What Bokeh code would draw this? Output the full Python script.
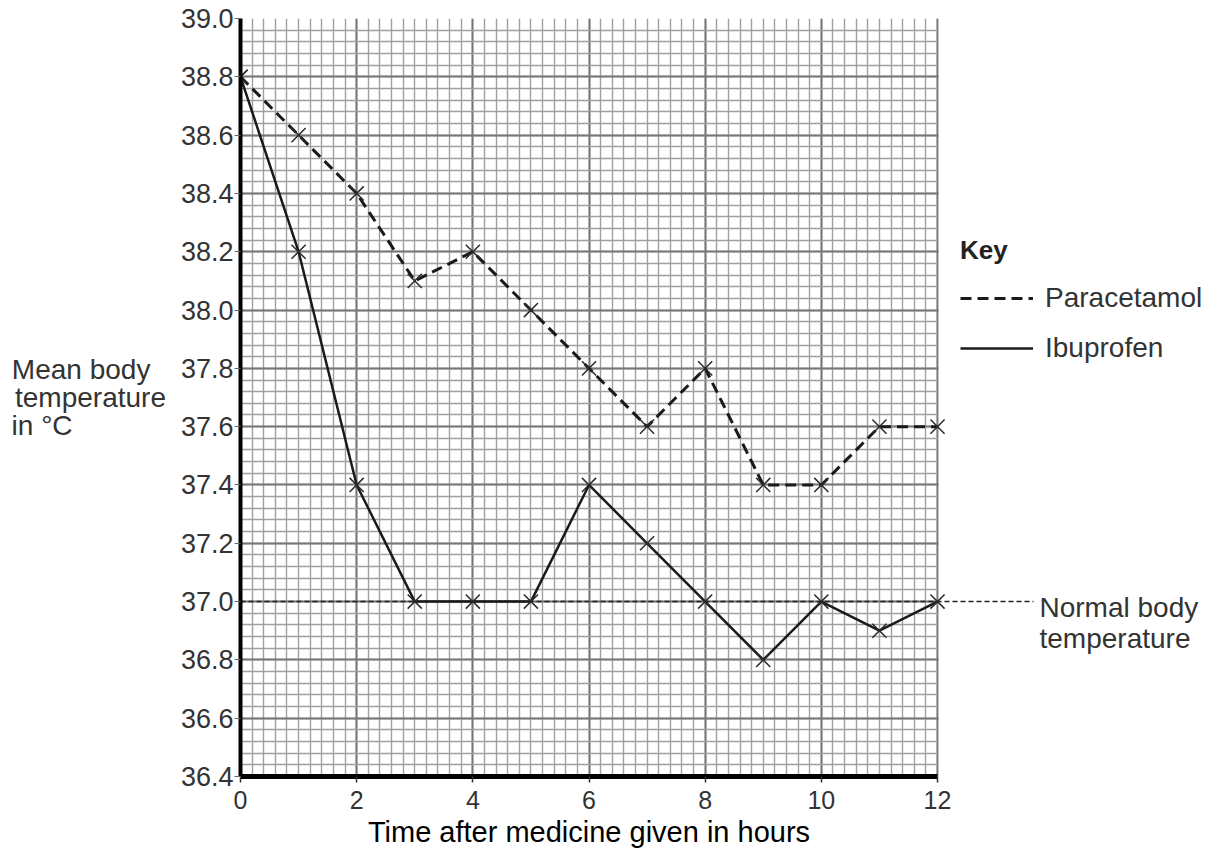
from bokeh.plotting import figure
from bokeh.models import (Range1d, FixedTicker, Label, Legend, LegendItem,
                          PrintfTickFormatter, LinearAxis)
from bokeh.embed import file_html
from bokeh.resources import INLINE

# ---- data ----
hours = [0, 1, 2, 3, 4, 5, 6, 7, 8, 9, 10, 11, 12]
paracetamol = [38.8, 38.6, 38.4, 38.1, 38.2, 38.0, 37.8, 37.6, 37.8, 37.4, 37.4, 37.6, 37.6]
ibuprofen = [38.8, 38.2, 37.4, 37.0, 37.0, 37.0, 37.4, 37.2, 37.0, 36.8, 37.0, 36.9, 37.0]
normal_temp = 37.0
x_ticks = [0, 2, 4, 6, 8, 10, 12]
y_ticks = [36.4, 36.6, 36.8, 37.0, 37.2, 37.4, 37.6, 37.8, 38.0, 38.2, 38.4, 38.6, 38.8, 39.0]
x_minor = [round(i * 0.2, 4) for i in range(61)]
y_minor = [round(36.4 + i * 0.04, 4) for i in range(66)]
x_title = "Time after medicine given in hours"
y_title = ["Mean body", "temperature", "in °C"]

FONT = "Liberation Sans"
X0, X1, Y0, Y1 = 0, 12, 36.4, 39.0
L, R, T, B = 240, 937, 18, 776       # plot-area corners on the page
W, H = 1216, 850
PX_PER_X = (R - L) / (X1 - X0)


def dx(px):
    return X0 + (px - L) / PX_PER_X


def dy(py):
    return Y1 - (py - T) / (B - T) * (Y1 - Y0)


# ---------------- chart (frame runs to the right edge of the page) ----------------
p = figure(frame_width=W - L, frame_height=B - T,
           min_border_left=L, min_border_right=0,
           min_border_top=T, min_border_bottom=H - B,
           x_range=Range1d(X0, dx(W)), y_range=Range1d(Y0, Y1),
           output_backend="svg", toolbar_location=None)
p.outline_line_color = None
p.background_fill_color = "white"
p.border_fill_color = "white"

xt = FixedTicker(ticks=x_ticks, minor_ticks=x_minor)
yt = FixedTicker(ticks=y_ticks, minor_ticks=y_minor)
p.xaxis.ticker = xt
p.yaxis.ticker = yt
p.xgrid.ticker = xt
p.ygrid.ticker = yt
p.yaxis.formatter = PrintfTickFormatter(format="%.1f")
p.xaxis.bounds = (X0, X1)

for g in (p.xgrid, p.ygrid):
    g.grid_line_color = "#777777"
    g.grid_line_width = 2
    g.minor_grid_line_color = "#a0a0a0"
    g.minor_grid_line_width = 1.4

for ax in (p.xaxis, p.yaxis):
    ax.axis_line_color = "black"
    ax.minor_tick_line_color = None
    ax.major_tick_in = 0
    ax.major_label_text_font = FONT
    ax.major_label_text_color = "#333333"

p.yaxis.axis_line_width = 4
p.yaxis.major_tick_out = 6
p.yaxis.major_tick_line_color = "#666666"
p.yaxis.major_label_standoff = 1
p.yaxis.major_label_text_font_size = "27px"
# horizontal y-axis title; no-break spaces pad the shorter lines so they start flush left
NB = "\u00a0"
p.yaxis.axis_label = "\n".join([y_title[0] + NB * 2, y_title[1], y_title[2] + NB * 12])
p.yaxis.axis_label_orientation = "horizontal"
p.yaxis.axis_label_text_font = FONT
p.yaxis.axis_label_text_font_style = "normal"
p.yaxis.axis_label_text_font_size = "28px"
p.yaxis.axis_label_text_color = "#333333"
p.yaxis.axis_label_text_line_height = 0.9
p.yaxis.axis_label_standoff = 12

p.xaxis.axis_line_width = 5
p.xaxis.major_tick_out = 6
p.xaxis.major_tick_line_color = "#333333"
p.xaxis.major_tick_line_width = 1.5
p.xaxis.major_label_standoff = 8
p.xaxis.major_label_text_font_size = "25px"

# x-axis title: a second, line-less axis whose single tick sits mid-way along the time axis
mid = (X0 + X1) / 2
title_axis = LinearAxis(ticker=FixedTicker(ticks=[mid]),
                        major_label_overrides={mid: x_title},
                        axis_line_color=None, major_tick_line_color=None,
                        minor_tick_line_color=None, major_tick_out=0, major_tick_in=0,
                        major_label_standoff=4,
                        major_label_text_font=FONT, major_label_text_font_size="29px",
                        major_label_text_color="black")
p.add_layout(title_axis, "below")

# white panel hiding the grid to the right of the plot area
p.quad(left=[X1 + 1.2 / PX_PER_X], right=[dx(W) + 1], bottom=[Y0 - 1], top=[Y1 + 1],
       fill_color="white", line_color=None)

# normal body temperature reference line (extends past the grid to its label)
p.line([X0, dx(1033)], [normal_temp, normal_temp], line_color="#222222",
       line_width=1.5, line_dash="5 3")

r_para = p.line(hours, paracetamol, line_color="#1a1a1a", line_width=3, line_dash="11 6")
r_ibu = p.line(hours, ibuprofen, line_color="#1a1a1a", line_width=2.5)
p.scatter(hours, paracetamol, marker="x", size=20, line_color="#2a2a2a", line_width=1.5)
p.scatter(hours, ibuprofen, marker="x", size=20, line_color="#2a2a2a", line_width=1.5)

legend = Legend(items=[LegendItem(label="Paracetamol", renderers=[r_para]),
                       LegendItem(label="Ibuprofen", renderers=[r_ibu])],
                title="Key", location=(960 - L, 412),
                title_text_font=FONT, title_text_font_style="bold",
                title_text_font_size="26px", title_text_color="#222222",
                title_standoff=16,
                label_text_font=FONT, label_text_font_size="28px",
                label_text_color="#333333",
                glyph_width=73, glyph_height=28, label_height=28,
                spacing=18, label_standoff=12, padding=0, margin=0,
                border_line_alpha=0, background_fill_alpha=0)
p.add_layout(legend)

for txt, py in (("Normal body", 607), ("temperature", 638)):
    p.add_layout(Label(x=dx(1039), y=dy(py), text=txt, text_font=FONT,
                       text_font_size="28px", text_align="left",
                       text_baseline="middle", text_color="#333333"))

open("out.html", "w").write(file_html(p, INLINE))
